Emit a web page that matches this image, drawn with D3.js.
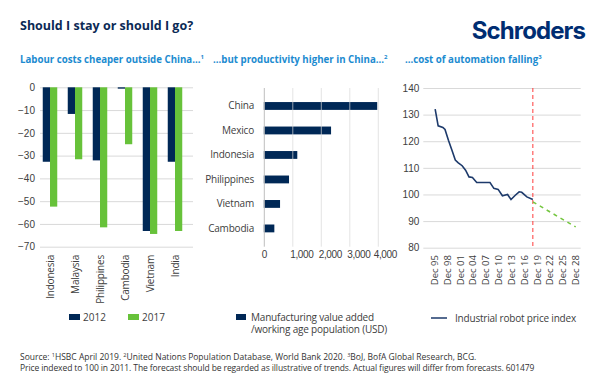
<!DOCTYPE html>
<html>
<head>
<meta charset="utf-8">
<script src="https://cdn.jsdelivr.net/npm/d3@7"></script>
<style>
  body { margin: 0; background: #fff; }
  svg { display: block; font-family: "Open Sans", "Noto Sans", sans-serif; }
  .tick text { fill: #404040; }
</style>
</head>
<body>
<svg id="chart" width="606" height="387"></svg>
<script>
// labour cost chart
const labourCountries = ['Indonesia', 'Malaysia', 'Philippines', 'Cambodia', 'Vietnam', 'India'];
const labourYears = ['2012', '2017'];
const labour2012 = [-32.7, -11.7, -32.1, -0.6, -63.1, -32.7];
const labour2017 = [-52.4, -31.6, -61.5, -25.0, -64.4, -63.1];
const labourTicks = [0, -10, -20, -30, -40, -50, -60, -70];

// productivity chart
const prodCountries = ['China', 'Mexico', 'Indonesia', 'Philippines', 'Vietnam', 'Cambodia'];
const prodValues = [3980, 2360, 1175, 885, 570, 370];
const prodTicks = [0, 1000, 2000, 3000, 4000];

// robot price index
const robotYears = [1995.2, 1995.9, 1997.0, 1997.5, 1998.3, 1999.1, 1999.9, 2000.6, 2001.5, 2002.3,
  2003.1, 2003.9, 2004.9, 2008.0, 2008.9, 2009.9, 2010.9, 2012.1, 2012.9, 2013.9,
  2014.8, 2015.4, 2016.6, 2018.0];
const robotIndex = [132.1, 125.8, 125.2, 124.4, 120.4, 116.7, 112.9, 111.9, 110.8, 109.1,
  106.6, 106.4, 104.5, 104.5, 102.3, 101.9, 99.5, 100.0, 98.1, 99.7,
  101.0, 100.8, 99.1, 98.1];
const forecastYears = [2018, 2028];
const forecastIndex = [97.2, 87.8];
const robotTicks = [80, 90, 100, 110, 120, 130, 140];
const robotYearTicks = [1995, 1998, 2001, 2004, 2007, 2010, 2013, 2016, 2019, 2022, 2025, 2028];

const navy = '#002856';
const green = '#67c23a';
const grid = '#d9d9d9';
const labelSize = 10;

const svg = d3.select('#chart');

// headings
svg.append('text').attr('x', 20).attr('y', 30)
  .attr('font-size', 12.5).attr('font-weight', 700).attr('fill', '#0b2a55')
  .text('Should I stay or should I go?');

svg.append('text').attr('x', 585).attr('y', 39).attr('text-anchor', 'end')
  .attr('font-family', 'Inter, "Noto Sans", sans-serif')
  .attr('font-size', 24).attr('font-weight', 700).attr('fill', '#002d72')
  .attr('letter-spacing', -0.9)
  .text('Schroders');

const subtitles = [
  { x: 20, t: 'Labour costs cheaper outside China...', s: '1' },
  { x: 213, t: '...but productivity higher in China...', s: '2' },
  { x: 405, t: '...cost of automation falling', s: '3' }
];
subtitles.forEach(d => {
  const t = svg.append('text').attr('x', d.x).attr('y', 63)
    .attr('font-size', 9.7).attr('font-weight', 700).attr('fill', '#1c8bd0');
  t.append('tspan').text(d.t);
  t.append('tspan').attr('font-size', 6).attr('dy', -4).text(d.s);
});

// ---- chart 1: grouped bars
const y1 = d3.scaleLinear().domain([-70, 0]).range([246.7, 87.3]);
const x1 = d3.scaleBand().domain(labourCountries).range([37.5, 187.5])
  .paddingInner(0.42).paddingOuter(0.21);
const x1s = d3.scaleBand().domain(labourYears).range([0, x1.bandwidth()]);
const labourColor = d3.scaleOrdinal().domain(labourYears).range([navy, green]);

const g1 = svg.append('g');
g1.append('g')
  .attr('transform', 'translate(40,0)')
  .call(d3.axisLeft(y1).tickValues(labourTicks).tickSize(-153).tickFormat(d3.format('d')))
  .call(g => g.select('.domain').remove())
  .call(g => g.selectAll('.tick line').attr('stroke', grid))
  .call(g => g.selectAll('.tick text').attr('x', -5).attr('font-size', labelSize));

const labourRows = labourCountries.map((c, i) => ({ c, v: [labour2012[i], labour2017[i]] }));
g1.selectAll('.grp').data(labourRows).join('g')
  .attr('transform', d => `translate(${x1(d.c)},0)`)
  .selectAll('rect').data(d => d.v.map((v, j) => ({ year: labourYears[j], v })))
  .join('rect')
  .attr('x', d => x1s(d.year))
  .attr('width', x1s.bandwidth())
  .attr('y', y1(0))
  .attr('height', d => y1(d.v) - y1(0))
  .attr('fill', d => labourColor(d.year));

g1.selectAll('.xl').data(labourCountries).join('text')
  .attr('transform', d => `translate(${x1(d) + x1.bandwidth() / 2 + 3.5},255) rotate(-90)`)
  .attr('text-anchor', 'end').attr('font-size', labelSize).attr('letter-spacing', -0.2)
  .attr('fill', '#404040')
  .text(d => d);

const leg1 = g1.selectAll('.leg').data(labourYears).join('g')
  .attr('transform', (d, i) => `translate(${69 + i * 59},314)`);
leg1.append('rect').attr('width', 11).attr('height', 6).attr('fill', d => labourColor(d));
leg1.append('text').attr('x', 14).attr('y', 7).attr('font-size', labelSize).attr('fill', '#404040').text(d => d);

// ---- chart 2: horizontal bars
const x2 = d3.scaleLinear().domain([0, 4000]).range([263.8, 377.8]);
const y2 = d3.scaleBand().domain(prodCountries).range([85.4, 249]).padding(0.68);
const g2 = svg.append('g');

g2.selectAll('rect').data(prodCountries).join('rect')
  .attr('x', x2(0)).attr('y', d => y2(d))
  .attr('width', (d, i) => x2(prodValues[i]) - x2(0))
  .attr('height', y2.bandwidth())
  .attr('fill', navy);

g2.append('g')
  .attr('transform', 'translate(0,88)')
  .call(d3.axisBottom(x2).tickValues(prodTicks).tickSize(158.7).tickFormat(d3.format(',')))
  .call(g => g.select('.domain').remove())
  .call(g => g.selectAll('.tick line').attr('stroke', (d) => d === 0 ? '#bfbfbf' : grid)
    .attr('stroke-opacity', d => d === 0 ? 1 : 0.7))
  .call(g => g.selectAll('.tick text').attr('y', 170).attr('dy', 0).attr('font-size', labelSize)
    .attr('letter-spacing', -0.4)
    .attr('text-anchor', d => d === 0 ? 'middle' : 'start')
    .attr('dx', d => d === 0 ? 0 : (d === 4000 ? -4.5 : -2.5)));

g2.selectAll('.yl').data(prodCountries).join('text')
  .attr('x', 254).attr('y', d => y2(d) + y2.bandwidth() / 2 + 3.5)
  .attr('text-anchor', 'end').attr('font-size', labelSize).attr('letter-spacing', -0.2)
  .attr('fill', '#404040')
  .text(d => d);

g2.append('rect').attr('x', 236).attr('y', 314).attr('width', 10).attr('height', 6).attr('fill', navy);
g2.append('text').attr('x', 251).attr('y', 320.5).attr('font-size', labelSize).attr('fill', '#404040')
  .attr('letter-spacing', -0.2)
  .text('Manufacturing value added');
g2.append('text').attr('x', 251).attr('y', 333).attr('font-size', labelSize).attr('fill', '#404040')
  .attr('letter-spacing', -0.2)
  .text('/working age population (USD)');

// ---- chart 3: line
const x3 = d3.scaleLinear().domain([1995, 2028]).range([434.3, 575.7]);
const y3 = d3.scaleLinear().domain([80, 140]).range([247.7, 88]);
const g3 = svg.append('g');

g3.append('g')
  .attr('transform', 'translate(423.3,0)')
  .call(d3.axisLeft(y3).tickValues(robotTicks).tickSize(-157.4))
  .call(g => g.select('.domain').remove())
  .call(g => g.selectAll('.tick line').attr('stroke', grid))
  .call(g => g.selectAll('.tick text').attr('x', -4).attr('font-size', labelSize));

g3.selectAll('.xl').data(robotYearTicks).join('text')
  .attr('transform', d => `translate(${x3(d) + 3.5},255) rotate(-90)`)
  .attr('text-anchor', 'end').attr('font-size', 9.5).attr('fill', '#404040')
  .text(d => `Dec ${String(d % 100).padStart(2, '0')}`);

g3.append('line')
  .attr('x1', x3(2018)).attr('x2', x3(2018))
  .attr('y1', y3(140)).attr('y2', y3(80))
  .attr('stroke', '#ff3b3b').attr('stroke-width', 1).attr('stroke-dasharray', '4,3');

const line3 = d3.line().x(d => x3(d[0])).y(d => y3(d[1]));
g3.append('path')
  .attr('d', line3(robotYears.map((y, i) => [y, robotIndex[i]])))
  .attr('fill', 'none').attr('stroke', '#1d3a6b').attr('stroke-width', 1.6);
g3.append('path')
  .attr('d', line3(forecastYears.map((y, i) => [y, forecastIndex[i]])))
  .attr('fill', 'none').attr('stroke', '#74c63f').attr('stroke-width', 1.5)
  .attr('stroke-dasharray', '4,4');

g3.append('line').attr('x1', 431).attr('x2', 447).attr('y1', 318).attr('y2', 318)
  .attr('stroke', '#1d3a6b').attr('stroke-width', 1.5);
g3.append('text').attr('x', 455).attr('y', 321.5).attr('font-size', labelSize).attr('fill', '#404040')
  .attr('letter-spacing', -0.2)
  .text('Industrial robot price index');

// ---- source
const src1 = svg.append('text').attr('x', 20).attr('y', 360).attr('font-size', 8.5).attr('fill', '#333');
[['Source: ', ''], ['1', 's'], ['HSBC April 2019. ', ''], ['2', 's'],
 ['United Nations Population Database, World Bank 2020. ', ''], ['3', 's'],
 ['BoJ, BofA Global Research, BCG.', '']].forEach(([t, s]) => {
  src1.append('tspan').attr('font-size', s ? 5.5 : null).attr('baseline-shift', s ? '3.5' : null).text(t);
});
svg.append('text').attr('x', 20).attr('y', 371).attr('font-size', 8.5).attr('fill', '#333')
  .attr('letter-spacing', -0.1)
  .text('Price indexed to 100 in 2011. The forecast should be regarded as illustrative of trends. Actual figures will differ from forecasts. 601479');
</script>
</body>
</html>
